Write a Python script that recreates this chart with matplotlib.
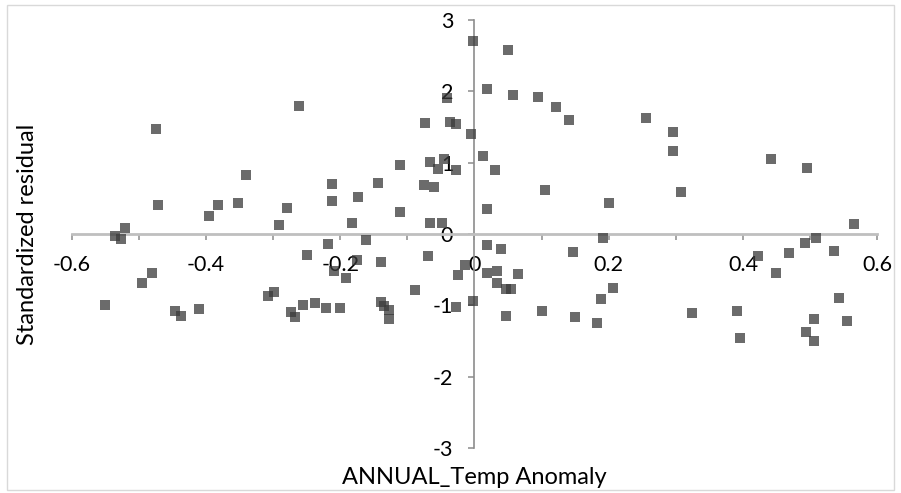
import matplotlib
matplotlib.use("Agg")
import matplotlib.pyplot as plt
from matplotlib.patches import Rectangle
from matplotlib.ticker import FixedLocator, MultipleLocator

# ---- data ----
temp_anomaly = [
    -0.475, -0.472, -0.521, -0.535, -0.526, -0.395, -0.382, -0.480, -0.495, -0.551,
    -0.446, -0.437, -0.410, -0.340, -0.352, -0.262, -0.280, -0.291, -0.212, -0.212,
    -0.218, -0.249, -0.209, -0.192, -0.298, -0.307, -0.255, -0.237, -0.221, -0.200,
    -0.273, -0.267,
    -0.041, -0.073, -0.037, -0.027, -0.005, -0.111, -0.067, -0.046, -0.054, -0.027,
    -0.143, -0.075, -0.061, -0.173, -0.111, -0.182, -0.066, -0.048, -0.161, -0.175,
    -0.139, -0.070, -0.014, -0.024, -0.088, -0.140, -0.135, -0.128, -0.128, -0.027,
    -0.002, 0.050, 0.018, 0.058, 0.094, 0.122, 0.141, 0.013, 0.031, 0.105,
    0.018, 0.018, 0.040, 0.147, 0.018, 0.034, 0.065, 0.033, 0.047, 0.054,
    -0.002, 0.047, 0.101, 0.149, 0.183,
    0.256, 0.295, 0.295, 0.308, 0.201, 0.192, 0.207, 0.189, 0.324,
    0.441, 0.496, 0.566, 0.508, 0.493, 0.469, 0.536, 0.423, 0.449, 0.543,
    0.391, 0.506, 0.555, 0.494, 0.396, 0.505,
]
std_residual = [
    1.468, 0.402, 0.080, -0.028, -0.074, 0.252, 0.402, -0.551, -0.691, -1.000,
    -1.080, -1.150, -1.056, 0.823, 0.430, 1.790, 0.360, 0.122, 0.697, 0.458,
    -0.144, -0.299, -0.519, -0.617, -0.817, -0.873, -1.000, -0.972, -1.042, -1.042,
    -1.098, -1.168,
    1.902, 1.552, 1.566, 1.538, 1.398, 0.963, 1.005, 1.051, 0.907, 0.893,
    0.711, 0.683, 0.655, 0.515, 0.304, 0.150, 0.150, 0.150, -0.088, -0.369,
    -0.397, -0.313, -0.439, -0.579, -0.789, -0.958, -1.014, -1.065, -1.196, -1.028,
    2.706, 2.575, 2.029, 1.944, 1.916, 1.776, 1.594, 1.089, 0.893, 0.613,
    0.346, -0.158, -0.214, -0.257, -0.551, -0.523, -0.565, -0.691, -0.775, -0.775,
    -0.944, -1.154, -1.084, -1.168, -1.252,
    1.622, 1.426, 1.159, 0.585, 0.430, -0.060, -0.761, -0.915, -1.112,
    1.047, 0.921, 0.136, -0.060, -0.130, -0.271, -0.243, -0.313, -0.551, -0.901,
    -1.084, -1.196, -1.224, -1.378, -1.462, -1.504,
]

x_ticks = [-0.6, -0.4, -0.2, 0.0, 0.2, 0.4, 0.6]
x_tick_labels = ["-0.6", "-0.4", "-0.2", "0", "0.2", "0.4", "0.6"]
y_ticks = [-3, -2, -1, 0, 1, 2, 3]
y_tick_labels = ["-3", "-2", "-1", "0", "1", "2", "3"]

x_title = "ANNUAL_Temp Anomaly"
y_title = "Standardized residual"

plt.rcParams["font.family"] = ["Lato", "DejaVu Sans"]

W, H = 901, 493
fig = plt.figure(figsize=(W / 100, H / 100), dpi=100)

# chart-area border
fig.patches.append(Rectangle((7 / W, 3 / H), 887 / W, 485 / H, transform=fig.transFigure,
                             fill=False, edgecolor="#D9D9D9", linewidth=1.0))

ax = fig.add_axes([71.7 / W, 45 / H, (877.3 - 71.7) / W, 428 / H])
ax.set_xlim(-0.6, 0.6)
ax.set_ylim(-3, 3)
ax.patch.set_visible(False)

ax.plot(temp_anomaly, std_residual, linestyle="none", marker="s", markersize=7.7,
        markeredgewidth=0, color="#3A3A3A", alpha=0.75, zorder=3, clip_on=False)

for s in ("top", "right"):
    ax.spines[s].set_visible(False)
ax.spines["left"].set_position(("data", 0))
ax.spines["bottom"].set_position(("data", 0))
ax.spines["bottom"].set_color("#BFBFBF")
ax.spines["bottom"].set_linewidth(2.0)
ax.spines["left"].set_color("#8C8C8C")
ax.spines["left"].set_linewidth(1.2)

ax.xaxis.set_major_locator(FixedLocator(x_ticks))
ax.xaxis.set_minor_locator(MultipleLocator(0.1))
ax.set_xticklabels(x_tick_labels)
ax.yaxis.set_major_locator(FixedLocator(y_ticks))
ax.set_yticklabels(y_tick_labels)

ax.tick_params(axis="x", which="both", direction="out", length=4.3, width=1.1,
               color="#8C8C8C", pad=11, labelsize=15.5, labelcolor="black")
ax.tick_params(axis="y", which="both", direction="out", length=4.3, width=1.1,
               color="#8C8C8C", pad=11, labelsize=15.5, labelcolor="black")

fig.text(474 / W, 1 - 477 / H, x_title, ha="center", va="center", fontsize=17, color="black")
fig.text(28 / W, 1 - 234 / H, y_title, ha="center", va="center", rotation=90,
         fontsize=17, color="black")

fig.savefig("out.png", dpi=100)
